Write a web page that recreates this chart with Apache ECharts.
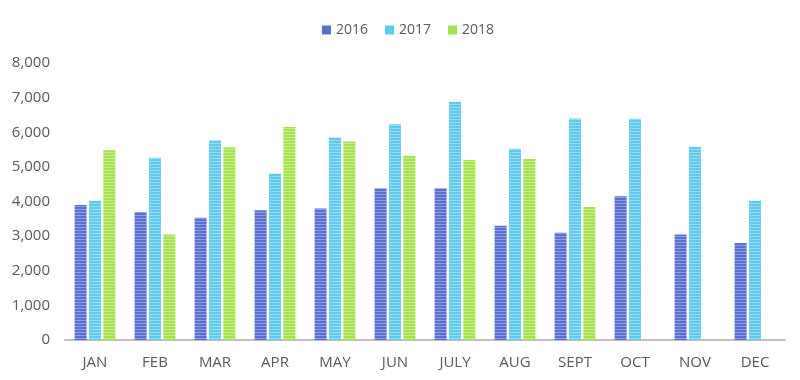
<!DOCTYPE html>
<html><head><meta charset="utf-8">
<script src="https://cdn.jsdelivr.net/npm/echarts@6/dist/echarts.min.js"></script>
<style>html,body{margin:0;padding:0;background:#fff}#c{width:800px;height:380px}</style>
</head><body><div id="c"></div>
<script>
const categories = ['JAN','FEB','MAR','APR','MAY','JUN','JULY','AUG','SEPT','OCT','NOV','DEC'];
const seriesNames = ['2016','2017','2018'];
const values2016 = [3900,3700,3530,3750,3800,4380,4380,3300,3100,4150,3050,2800];
const values2017 = [4020,5260,5770,4800,5850,6230,6880,5520,6400,6390,5580,4020];
const values2018 = [5480,3050,5570,6150,5730,5320,5200,5230,3840,null,null,null];
const yTicks = [0,1000,2000,3000,4000,5000,6000,7000,8000];

const baseColors = ['#5b6fd2','#5ccbee','#a6e24c'];
const lightColors = ['#8f9fe2','#9adcf3','#c8ed8e'];
function stripe(c, l){
  const cv = document.createElement('canvas');
  cv.width = 3; cv.height = 3;
  const ctx = cv.getContext('2d');
  ctx.fillStyle = c; ctx.fillRect(0,0,3,3);
  ctx.fillStyle = l; ctx.fillRect(0,2,3,1);
  return {image: cv, repeat: 'repeat'};
}
const data = [values2016, values2017, values2018];
const chart = echarts.init(document.getElementById('c'), null, {renderer:'canvas'});
chart.setOption({
  animation: false,
  legend: {
    top: 18, left: 317, itemWidth: 9, itemHeight: 9, itemGap: 17,
    textStyle: {color:'#595959', fontSize: 14, fontFamily: 'Open Sans'},
    data: seriesNames.map((n,i)=>({name:n, icon:'rect', itemStyle:{color: baseColors[i]}}))
  },
  grid: {left: 65, right: 15, top: 63, bottom: 40},
  xAxis: {
    type: 'category', data: categories,
    axisLine: {lineStyle: {color:'#bfbfbf', width: 2}},
    axisTick: {show: false},
    axisLabel: {color:'#595959', fontSize: 15, fontFamily: 'Open Sans', margin: 15}
  },
  yAxis: {
    type: 'value', min: yTicks[0], max: yTicks[yTicks.length-1], interval: 1000,
    axisLine: {show:false}, axisTick:{show:false}, splitLine:{show:false},
    axisLabel: {color:'#595959', fontSize: 15, fontFamily: 'Open Sans', margin: 15,
      formatter: v => v.toLocaleString('en-US')}
  },
  series: seriesNames.map((n,i)=>({
    name: n, type: 'bar', data: data[i], barWidth: 12, barGap: '20%',
    itemStyle: {color: stripe(baseColors[i], lightColors[i])}
  }))
});
</script></body></html>
